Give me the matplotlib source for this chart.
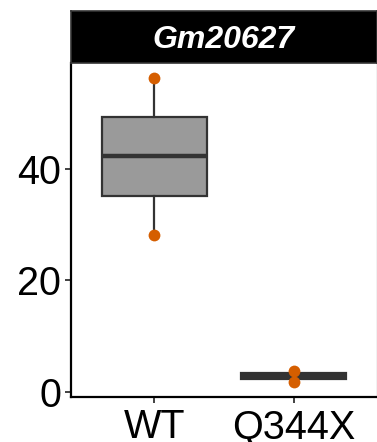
import matplotlib
matplotlib.use("Agg")
import matplotlib.pyplot as plt
import numpy as np

plt.rcParams['font.family'] = ['Liberation Sans', 'DejaVu Sans']

categories = ["WT", "Q344X"]
values = {
    "WT": [56.3, 28.2],
    "Q344X": [3.8, 1.8],
}
title = "Gm20627"
yticks = [0, 20, 40]

W, H = 377, 442
fig = plt.figure(figsize=(W / 100, H / 100), dpi=100)
ax = fig.add_axes([71 / W, 1 - 397 / H, (377 - 71) / W, (397 - 63) / H])

data = [values[c] for c in categories]
pos = np.arange(1, len(categories) + 1)
bp = ax.boxplot(data, positions=pos, widths=0.75, patch_artist=True,
                whis=(0, 100), showfliers=False, showcaps=False,
                medianprops=dict(color='#333333', linewidth=3.2, solid_capstyle='butt'),
                boxprops=dict(facecolor='#9a9a9a', edgecolor='#333333', linewidth=1.6),
                whiskerprops=dict(color='#333333', linewidth=1.6))
for i, c in enumerate(categories):
    ax.plot([pos[i]] * len(values[c]), values[c], 'o', color='#D55E00',
            markersize=8.5, markeredgewidth=0, zorder=5)

allv = np.concatenate(data)
lo, hi = allv.min(), allv.max()
pad = 0.05 * (hi - lo)
ax.set_ylim(lo - pad, hi + pad)
ax.set_xlim(0.4, 2.6)
ax.set_xticks(pos)
ax.set_xticklabels(categories)
ax.set_yticks(yticks)
ax.tick_params(axis='both', labelsize=28.5, color='#333333', length=4, width=1.3,
               labelcolor='black')
ax.tick_params(axis='y', pad=3)
ax.tick_params(axis='x', pad=4)

for s in ['left', 'bottom']:
    ax.spines[s].set_color('black')
    ax.spines[s].set_linewidth(1.6)
ax.spines['top'].set_visible(False)
ax.spines['right'].set_color('#bbbbbb')
ax.spines['right'].set_linewidth(1.0)

# strip
sax = fig.add_axes([71 / W, 1 - 63 / H, (377 - 71) / W, (63 - 11) / H])
sax.set_facecolor('black')
sax.set_xticks([]); sax.set_yticks([])
for s in sax.spines.values():
    s.set_color('#333333'); s.set_linewidth(1.2)
sax.text(0.5, 0.44, title, color='white', fontsize=23, fontweight='bold',
         fontstyle='italic', ha='center', va='center', transform=sax.transAxes)

fig.savefig("out.png", dpi=100)
